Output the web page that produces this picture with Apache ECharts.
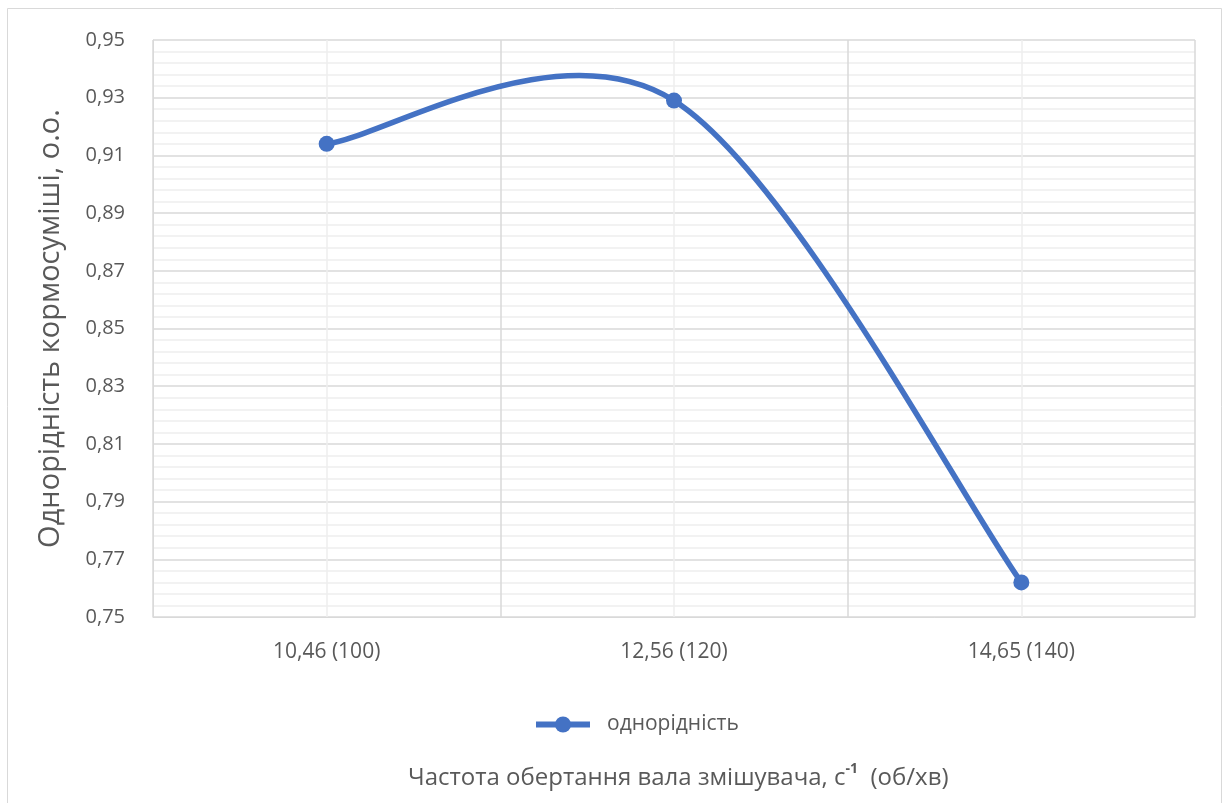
<!DOCTYPE html>
<html>
<head>
<meta charset="utf-8">
<script src="https://cdn.jsdelivr.net/npm/echarts@6/dist/echarts.min.js"></script>
<style>
html,body{margin:0;padding:0;background:#fff;}
#chart{width:1225px;height:803px;}
</style>
</head>
<body>
<div id="chart"></div>
<script>
const categories = ['10,46 (100)', '12,56 (120)', '14,65 (140)'];
const uniformity = [0.914, 0.929, 0.762];
const seriesName = 'однорідність';
const yTitle = 'Однорідність кормосуміші, о.о.';
const yMin = 0.75, yMax = 0.95, yStep = 0.02;

const FONT = '"Open Sans", "Liberation Sans", sans-serif';
const TXT = '#595959';
const BLUE = '#4472C4';
const chart = echarts.init(document.getElementById('chart'), null, {renderer: 'canvas'});

// Excel-style smoothed segment (Catmull-Rom, tension 1/6) drawn through axis coordinates
function renderSegment(params, api) {
  const i = params.dataIndex;
  const n = uniformity.length;
  if (i >= n - 1) return null;
  const pts = uniformity.map((v, k) => api.coord([k, v]));
  const p0 = pts[i - 1] || pts[i], p1 = pts[i], p2 = pts[i + 1], p3 = pts[i + 2] || pts[i + 1];
  return {
    type: 'bezierCurve',
    shape: {
      x1: p1[0], y1: p1[1], x2: p2[0], y2: p2[1],
      cpx1: p1[0] + (p2[0] - p0[0]) / 6, cpy1: p1[1] + (p2[1] - p0[1]) / 6,
      cpx2: p2[0] - (p3[0] - p1[0]) / 6, cpy2: p2[1] - (p3[1] - p1[1]) / 6
    },
    style: {fill: null, stroke: BLUE, lineWidth: 5.5, lineCap: 'round'},
    silent: true
  };
}

chart.setOption({
  animation: false,
  backgroundColor: '#fff',
  textStyle: {fontFamily: FONT},
  graphic: [{
    type: 'rect', shape: {x: 7.5, y: 8.5, width: 1214, height: 820},
    style: {fill: 'none', stroke: '#d9d9d9', lineWidth: 1}, silent: true, z: -10
  }],
  title: {
    left: 408, top: 762, padding: 0,
    text: '{a|Частота обертання вала змішувача, с}{s|-1}{a|  (об/хв)}',
    textStyle: {
      rich: {
        a: {fontFamily: FONT, fontSize: 24, color: TXT, fontWeight: 'normal', lineHeight: 32},
        s: {fontFamily: FONT, fontSize: 14, color: TXT, verticalAlign: 'top', lineHeight: 32}
      }
    }
  },
  legend: {
    top: 714, left: 533, padding: 0,
    itemWidth: 54, itemHeight: 20, itemGap: 20,
    textStyle: {fontFamily: FONT, fontSize: 21, color: TXT, padding: [0, 0, 0, 12]},
    lineStyle: {color: BLUE, width: 6, opacity: 1},
    itemStyle: {color: BLUE, opacity: 1},
    data: [seriesName]
  },
  grid: {left: 153, right: 30, top: 40, bottom: 186},
  xAxis: {
    type: 'category', data: categories, boundaryGap: true,
    axisLine: {show: true, lineStyle: {color: '#d9d9d9', width: 1}},
    axisTick: {show: false},
    axisLabel: {fontFamily: FONT, fontSize: 21, color: TXT, margin: 25},
    splitLine: {show: true, interval: 0, lineStyle: {color: '#d9d9d9', width: 1.5}}
  },
  yAxis: {
    type: 'value', min: yMin, max: yMax, interval: yStep,
    name: yTitle, nameLocation: 'middle', nameGap: 88, nameRotate: 90,
    nameTextStyle: {fontFamily: FONT, fontSize: 29, color: TXT},
    axisLine: {show: true, lineStyle: {color: '#d9d9d9'}},
    axisTick: {show: false},
    axisLabel: {fontFamily: FONT, fontSize: 20, color: TXT, margin: 28,
      formatter: v => v.toFixed(2).replace('.', ',')},
    splitLine: {show: true, lineStyle: {color: '#d9d9d9', width: 1.5}},
    minorTick: {show: false, splitNumber: 5},
    minorSplitLine: {show: true, lineStyle: {color: '#eeeeee', width: 1.5}}
  },
  series: [{
    name: '_centers', type: 'line', data: [], z: 1, silent: true,
    markLine: {
      silent: true, symbol: 'none', label: {show: false},
      lineStyle: {color: '#eeeeee', width: 1.5, type: 'solid'},
      data: categories.map(c => ({xAxis: c}))
    }
  }, {
    name: '_curve', type: 'custom', z: 4, silent: true,
    data: uniformity.map((v, k) => [k, v]),
    encode: {x: 0, y: 1},
    renderItem: renderSegment
  }, {
    name: seriesName, type: 'line', data: uniformity,
    symbol: 'circle', symbolSize: 16, z: 5,
    lineStyle: {color: BLUE, width: 5.5, opacity: 0},
    itemStyle: {color: BLUE}
  }]
});
</script>
</body>
</html>
